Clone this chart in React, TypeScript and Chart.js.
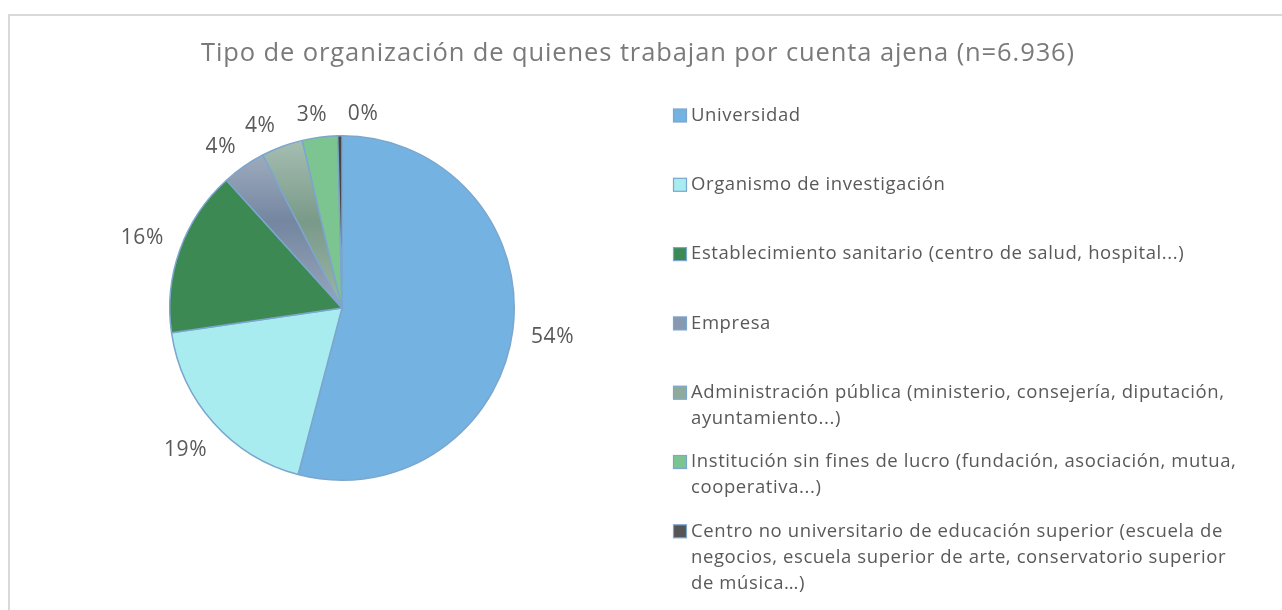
import React, { useEffect, useRef } from "react";
import { Chart, registerables } from "chart.js";

Chart.register(...registerables);

const TITLE = "Tipo de organización de quienes trabajan por cuenta ajena (n=6.936)";

const categories: string[][] = [
  ["Universidad"],
  ["Organismo de investigación"],
  ["Establecimiento sanitario (centro de salud, hospital...)"],
  ["Empresa"],
  ["Administración pública (ministerio, consejería, diputación,", "ayuntamiento...)"],
  ["Institución sin fines de lucro (fundación, asociación, mutua,", "cooperativa...)"],
  [
    "Centro no universitario de educación superior (escuela de",
    "negocios, escuela superior de arte, conservatorio superior",
    "de música…)",
  ],
];

const shares: number[] = [54.1, 18.6, 15.6, 4.1, 3.9, 3.3, 0.4];

const sliceColors: (string | string[])[] = [
  "#74B3E1",
  "#A8ECF0",
  "#3D8953",
  ["#AAB6C7", "#7486A0", "#98A6BB"],
  ["#A8C0B4", "#7A9A89", "#9CB5A7"],
  "#7DC590",
  "#454545",
];

const legendColors: string[] = ["#74B3E1", "#A8ECF0", "#3D8953", "#8898B0", "#8FAA9B", "#7DC590", "#555555"];

const FONT = '"Open Sans", "DejaVu Sans", sans-serif';
const TEXT_COLOR = "#595959";
const TITLE_COLOR = "#7A7A7A";
const BORDER_COLOR = "#7BA6CE";

const CANVAS_W = 1272;
const CANVAS_H = 594;

const titlePlugin = {
  id: "customTitle",
  afterDraw(chart: any) {
    const ctx = chart.ctx;
    ctx.save();
    ctx.font = `25.5px ${FONT}`;
    (ctx as any).letterSpacing = "0.9px";
    ctx.fillStyle = TITLE_COLOR;
    ctx.textAlign = "center";
    ctx.textBaseline = "alphabetic";
    ctx.fillText(TITLE, 628, 45);
    ctx.restore();
  },
};

const legendPlugin = {
  id: "customLegend",
  afterDraw(chart: any) {
    const ctx = chart.ctx;
    const labels = chart.data.labels as string[][];
    ctx.save();
    ctx.font = `18.5px ${FONT}`;
    (ctx as any).letterSpacing = "0.6px";
    ctx.textBaseline = "middle";
    ctx.textAlign = "left";
    labels.forEach((lines, i) => {
      const y0 = 99.5 + i * 69.3;
      ctx.fillStyle = legendColors[i];
      ctx.fillRect(663.5, y0 - 6.5, 13, 13);
      ctx.strokeStyle = BORDER_COLOR;
      ctx.lineWidth = 1.2;
      ctx.strokeRect(663.5, y0 - 6.5, 13, 13);
      ctx.fillStyle = TEXT_COLOR;
      lines.forEach((ln, j) => {
        ctx.fillText(ln, 681, y0 + j * 26);
      });
    });
    ctx.restore();
  },
};

const outLabelPlugin = {
  id: "outLabels",
  afterDatasetsDraw(chart: any) {
    const ctx = chart.ctx;
    const meta = chart.getDatasetMeta(0);
    const data = chart.data.datasets[0].data as number[];
    const total = data.reduce((a, b) => a + b, 0);
    ctx.save();
    ctx.font = `21px ${FONT}`;
    (ctx as any).letterSpacing = "0.6px";
    ctx.fillStyle = TEXT_COLOR;
    ctx.textAlign = "center";
    ctx.textBaseline = "middle";
    const h = 18;
    const gap = 18;
    const items = meta.data.map((arc: any, i: number) => {
      const p = arc.getProps(["x", "y", "startAngle", "endAngle", "outerRadius"], true);
      const text = Math.round((data[i] / total) * 100) + "%";
      const w = ctx.measureText(text).width;
      return { x: p.x, y: p.y, r: p.outerRadius, a: (p.startAngle + p.endAngle) / 2, text, w, cx: 0, cy: 0 };
    });
    const place = (it: any) => {
      const d = it.r + gap + Math.abs(Math.cos(it.a)) * it.w / 2 + Math.abs(Math.sin(it.a)) * 5;
      it.cx = it.x + Math.cos(it.a) * d;
      it.cy = it.y + Math.sin(it.a) * d + 2;
    };
    items.forEach(place);
    for (let iter = 0; iter < 400; iter++) {
      let moved = false;
      for (let i = 0; i < items.length - 1; i++) {
        const A = items[i];
        const B = items[i + 1];
        const overlapX = Math.abs(A.cx - B.cx) < (A.w + B.w) / 2 + 20;
        const overlapY = Math.abs(A.cy - B.cy) < h + 2;
        if (overlapX && overlapY) {
          A.a -= 0.004;
          B.a += 0.004;
          place(A);
          place(B);
          moved = true;
        }
      }
      if (!moved) break;
    }
    items.forEach((it: any) => ctx.fillText(it.text, it.cx, it.cy));
    ctx.restore();
  },
};

export default function App() {
  const ref = useRef<HTMLCanvasElement | null>(null);

  useEffect(() => {
    if (!ref.current) return;
    const chart = new Chart(ref.current, {
      type: "pie",
      data: {
        labels: categories,
        datasets: [
          {
            data: shares,
            backgroundColor: (c: any) => {
              const i = c.dataIndex;
              if (i === undefined) return "#cccccc";
              const base = sliceColors[i];
              if (!Array.isArray(base)) return base;
              const area = c.chart.chartArea;
              if (!area) return base[1];
              const g = c.chart.ctx.createLinearGradient(0, area.top, 0, area.bottom);
              g.addColorStop(0, base[0]);
              g.addColorStop(0.25, base[1]);
              g.addColorStop(0.5, base[2]);
              g.addColorStop(1, base[2]);
              return g;
            },
            borderColor: BORDER_COLOR,
            borderWidth: 1.5,
            hoverOffset: 0,
          },
        ],
      },
      options: {
        responsive: false,
        animation: false,
        devicePixelRatio: 1,
        layout: { padding: { left: 159, right: 767, top: 119, bottom: 129 } },
        plugins: {
          legend: { display: false },
          title: { display: false },
          tooltip: { enabled: false },
        },
      },
      plugins: [titlePlugin, legendPlugin, outLabelPlugin],
    });
    return () => chart.destroy();
  }, []);

  return (
    <div
      style={{
        position: "absolute",
        left: 8,
        top: 14,
        width: 1274,
        height: 596,
        boxSizing: "border-box",
        borderTop: "2px solid #d9d9d9",
        borderLeft: "2px solid #d9d9d9",
        background: "#ffffff",
        overflow: "hidden",
      }}
    >
      <canvas ref={ref} width={CANVAS_W} height={CANVAS_H} style={{ width: CANVAS_W, height: CANVAS_H, display: "block" }} />
    </div>
  );
}
